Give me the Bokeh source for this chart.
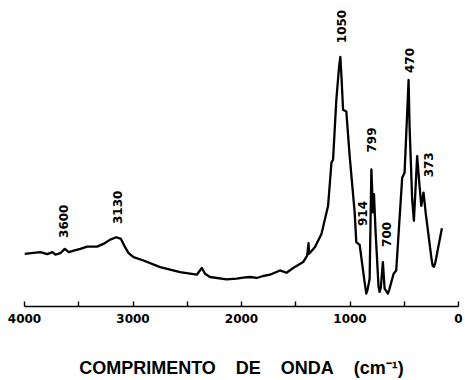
from bokeh.plotting import figure
from bokeh.models import Range1d, FixedTicker, ColumnDataSource
from bokeh.embed import file_html
from bokeh.resources import INLINE
from bokeh.core.properties import value
import math

# IR spectrum (wavenumber in cm^-1, relative intensity)
wavenumber = [4000, 3853, 3790, 3742, 3715, 3669, 3629, 3592, 3546, 3485, 3423, 3331,
              3273, 3210, 3154, 3111, 3081, 3041, 2995, 2903, 2750, 2566, 2412, 2366,
              2336, 2290, 2137, 2045, 1984, 1922, 1860, 1800, 1738, 1646, 1585, 1524,
              1432, 1395, 1382, 1377, 1324, 1263, 1202, 1171, 1156, 1126, 1101, 1089,
              1077, 1064, 1034, 1003, 957, 942, 911, 866, 850, 838, 819, 803, 788, 779,
              764, 737, 727, 716, 697, 681, 662, 651, 638, 598, 574, 519, 497, 460, 451,
              427, 411, 381, 359, 343, 322, 303, 250, 238, 226, 214, 153]
intensity = [50, 51.7, 49.7, 51.7, 49.3, 50.7, 55, 51.7, 53.3, 55, 57.3, 57.3,
             60, 64.3, 66.7, 65, 58.3, 50.7, 46.7, 43.3, 36.7, 31.7, 29, 35.7,
             30, 26.7, 24.3, 25, 26, 26.7, 25.7, 27.7, 29, 33.3, 31, 35.7,
             41.7, 48.3, 60.7, 50, 56.7, 70, 98.3, 141.7, 145, 205, 238, 248.3,
             225, 195, 193.3, 148.3, 91.7, 61.7, 59, 22, 10, 14, 25, 135, 91.7, 110,
             71.7, 17, 11.7, 16, 41.7, 15, 12, 10, 14, 30, 33.3, 126.7, 131.7, 225, 178.3,
             105, 83.3, 148.3, 118.3, 98.3, 111.7, 91.7, 46, 38, 37, 41, 75.7]

# peak annotations
peak_labels = ["3600", "3130", "1050", "914", "799", "700", "470", "373"]
peak_x = [3641, 3143, 1078, 885, 800, 668, 452, 281]
peak_y = [66, 80, 262, 78, 152, 57, 232, 127]

major_ticks = [4000, 3000, 2000, 1000, 0]
minor_ticks = [3500, 2500, 1500, 500]

p = figure(width=465, height=380, output_backend="svg", toolbar_location=None,
           x_range=Range1d(4000, 0), y_range=Range1d(-3, 305),
           min_border_left=24, min_border_right=7, min_border_top=0, min_border_bottom=72,
           y_axis_location=None)
p.outline_line_color = None
p.xgrid.visible = False
p.ygrid.visible = False
p.background_fill_color = "white"
p.border_fill_color = "white"

p.line(wavenumber, intensity, line_color="black", line_width=2.3, line_join="round")

src = ColumnDataSource(dict(x=peak_x, y=peak_y, t=peak_labels))
p.text(x="x", y="y", text="t", source=src, angle=math.pi / 2,
       text_align="left", text_baseline="middle",
       text_font=value("DejaVu Sans"), text_font_style="bold",
       text_font_size="12px", text_color="black")

ax = p.xaxis[0]
ax.ticker = FixedTicker(ticks=major_ticks, minor_ticks=minor_ticks)
ax.major_tick_in = 5
ax.major_tick_out = 0
ax.minor_tick_in = 5
ax.minor_tick_out = 0
ax.axis_line_width = 1.6
ax.major_tick_line_width = 1.4
ax.minor_tick_line_width = 1.4
ax.axis_line_color = "black"
ax.major_tick_line_color = "black"
ax.minor_tick_line_color = "black"
ax.major_label_text_font = "DejaVu Sans"
ax.major_label_text_font_style = "bold"
ax.major_label_text_font_size = "12px"
ax.major_label_text_color = "black"
ax.major_label_standoff = 7
nb = "\u00a0" * 4
ax.axis_label = "COMPRIMENTO" + nb + "DE" + nb + "ONDA" + nb + "(cm\u207b\u00b9)"
ax.axis_label_text_font = "Liberation Sans"
ax.axis_label_text_font_style = "bold"
ax.axis_label_text_font_size = "18px"
ax.axis_label_text_color = "black"
ax.axis_label_standoff = 32

open("out.html", "w").write(file_html(p, INLINE))
